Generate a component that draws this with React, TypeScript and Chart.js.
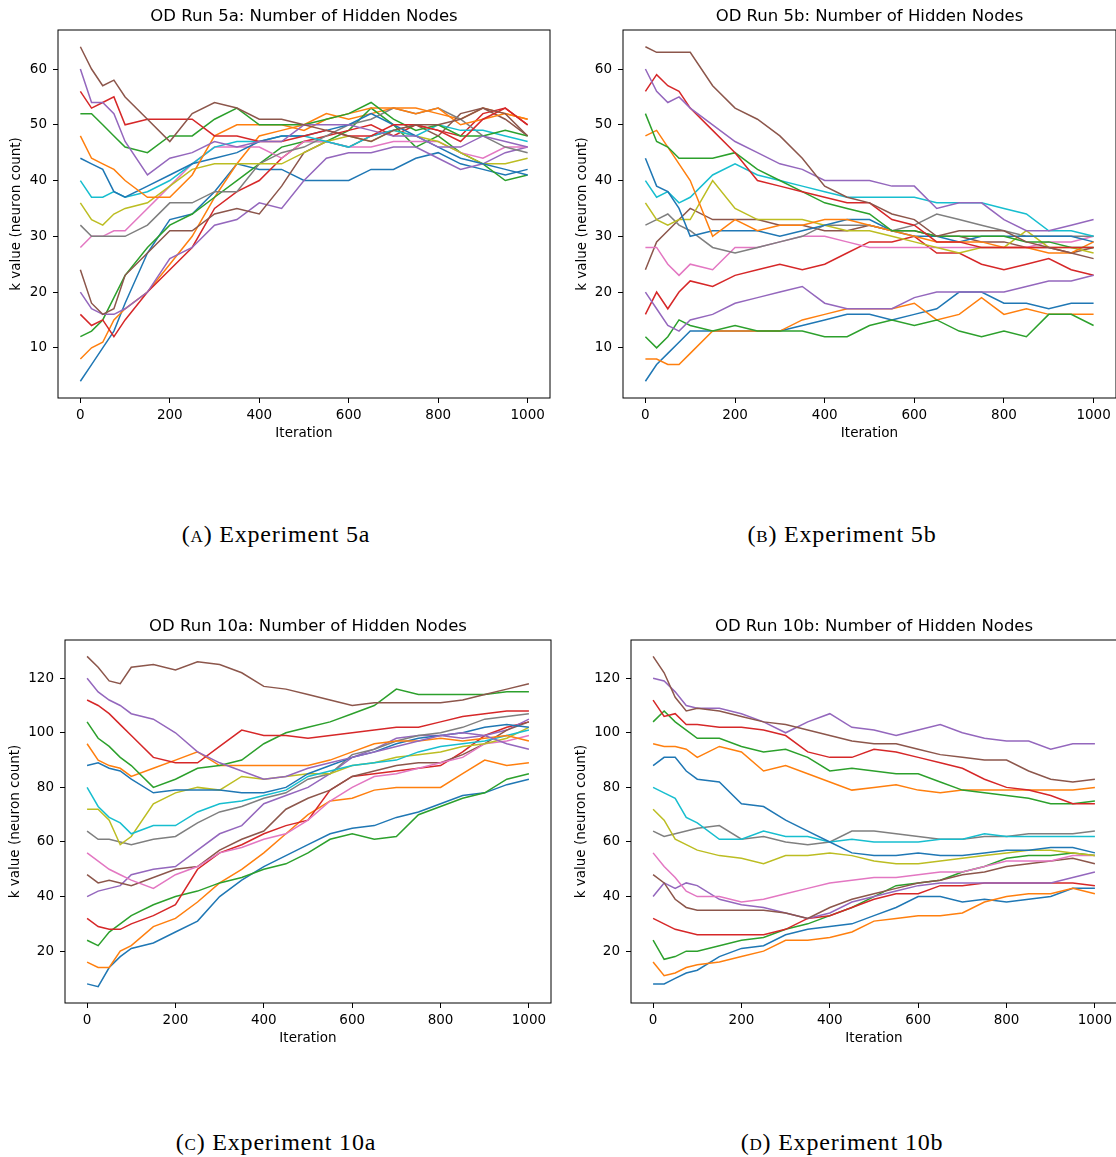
import React, { useEffect, useRef } from "react";
import { Chart, registerables } from "chart.js";

Chart.register(...registerables);

// Shared sample iterations (x values) for every series
const ITER = [0, 25, 50, 75, 100, 150, 200, 250, 300, 350, 400, 450, 500, 550, 600, 650, 700, 750, 800, 850, 900, 950, 1000];
const X_TICKS = [0, 200, 400, 600, 800, 1000];
const Y_TICKS_5 = [10, 20, 30, 40, 50, 60];
const Y_TICKS_10 = [20, 40, 60, 80, 100, 120];
const COLORS = ["#1f77b4", "#ff7f0e", "#2ca02c", "#d62728", "#9467bd", "#8c564b", "#e377c2", "#7f7f7f", "#bcbd22", "#17becf"];

// ---- OD Run 5a (starting k = 4 .. 64)
const A_K04 = [4, 7, 10, 13, 18, 27, 33, 34, 38, 43, 42, 42, 40, 40, 40, 42, 42, 44, 45, 43, 42, 41, 42];
const A_K08 = [8, 10, 11, 15, 17, 20, 25, 30, 37, 43, 48, 49, 50, 52, 51, 52, 53, 53, 52, 51, 53, 52, 51];
const A_K12 = [12, 13, 15, 19, 23, 28, 32, 34, 37, 40, 43, 46, 47, 47, 49, 53, 50, 46, 48, 45, 43, 40, 41];
const A_K16 = [16, 14, 15, 12, 15, 20, 24, 28, 35, 38, 40, 44, 47, 48, 49, 50, 48, 50, 49, 48, 52, 53, 50];
const A_K20 = [20, 17, 16, 16, 17, 20, 26, 28, 32, 33, 36, 35, 40, 44, 45, 45, 46, 46, 44, 42, 43, 45, 46];
const A_K24 = [24, 18, 16, 17, 23, 27, 31, 31, 34, 35, 34, 39, 45, 47, 46, 48, 49, 50, 48, 52, 53, 51, 48];
const A_K28 = [28, 30, 30, 31, 31, 35, 39, 43, 46, 46, 46, 44, 47, 47, 46, 46, 47, 47, 47, 45, 44, 46, 46];
const A_K32 = [32, 30, 30, 30, 30, 32, 36, 36, 38, 38, 43, 45, 46, 48, 50, 51, 53, 52, 53, 51, 48, 46, 45];
const A_K36 = [36, 33, 32, 34, 35, 36, 39, 42, 43, 43, 43, 43, 45, 47, 48, 47, 49, 48, 47, 45, 43, 43, 44];
const A_K40 = [40, 37, 37, 38, 37, 38, 40, 43, 46, 47, 47, 48, 48, 47, 46, 48, 49, 48, 50, 49, 49, 48, 47];
const A_K44 = [44, 43, 42, 38, 37, 39, 41, 43, 44, 45, 47, 48, 48, 49, 50, 52, 50, 48, 46, 44, 43, 42, 41];
const A_K48 = [48, 44, 43, 42, 40, 37, 37, 41, 48, 50, 50, 50, 49, 51, 52, 53, 53, 52, 53, 50, 51, 52, 51];
const A_K52 = [52, 52, 50, 48, 46, 45, 48, 48, 51, 53, 50, 50, 50, 51, 52, 54, 51, 49, 50, 48, 48, 49, 48];
const A_K56 = [56, 53, 54, 55, 50, 51, 51, 51, 48, 48, 47, 47, 48, 49, 48, 48, 50, 50, 49, 47, 51, 53, 50];
const A_K60 = [60, 54, 54, 52, 47, 41, 44, 45, 47, 46, 47, 47, 50, 50, 50, 49, 48, 48, 46, 46, 48, 47, 46];
const A_K64 = [64, 60, 57, 58, 55, 51, 47, 52, 54, 53, 51, 51, 50, 49, 48, 47, 49, 50, 50, 51, 53, 52, 48];
const RUN_5A = [A_K04, A_K08, A_K12, A_K16, A_K20, A_K24, A_K28, A_K32, A_K36, A_K40, A_K44, A_K48, A_K52, A_K56, A_K60, A_K64];

// ---- OD Run 5b
const B_K04 = [4, 7, 9, 11, 13, 13, 13, 13, 13, 14, 15, 16, 16, 15, 16, 17, 20, 20, 18, 18, 17, 18, 18];
const B_K08 = [8, 8, 7, 7, 9, 13, 13, 13, 13, 15, 16, 17, 17, 17, 18, 15, 16, 19, 16, 17, 16, 16, 16];
const B_K12 = [12, 10, 12, 15, 14, 13, 14, 13, 13, 13, 12, 12, 14, 15, 14, 15, 13, 12, 13, 12, 16, 16, 14];
const B_K16 = [16, 20, 17, 20, 22, 21, 23, 24, 25, 24, 25, 27, 29, 29, 30, 27, 27, 25, 24, 25, 26, 24, 23];
const B_K20 = [20, 17, 14, 13, 15, 16, 18, 19, 20, 21, 18, 17, 17, 17, 19, 20, 20, 20, 20, 21, 22, 22, 23];
const B_K24 = [24, 29, 31, 33, 35, 33, 33, 33, 32, 32, 31, 31, 32, 31, 31, 30, 30, 29, 29, 28, 28, 27, 28];
const B_K28 = [28, 28, 25, 23, 25, 24, 28, 28, 29, 30, 30, 29, 28, 28, 28, 28, 28, 28, 28, 28, 29, 29, 30];
const B_K32 = [32, 33, 34, 32, 31, 28, 27, 28, 29, 30, 32, 32, 32, 31, 32, 34, 33, 32, 31, 30, 30, 30, 30];
const B_K36 = [36, 33, 32, 33, 33, 40, 35, 33, 33, 33, 32, 31, 31, 30, 29, 28, 27, 28, 28, 31, 28, 28, 27];
const B_K40 = [40, 37, 38, 36, 37, 41, 43, 41, 40, 39, 38, 37, 37, 37, 37, 36, 36, 36, 35, 34, 31, 31, 30];
const B_K44 = [44, 39, 38, 35, 30, 31, 31, 31, 30, 31, 32, 33, 33, 31, 30, 30, 29, 30, 30, 30, 30, 30, 29];
const B_K48 = [48, 49, 46, 43, 40, 30, 33, 31, 32, 32, 33, 33, 32, 31, 30, 29, 29, 29, 28, 28, 27, 27, 29];
const B_K52 = [52, 47, 46, 44, 44, 44, 45, 42, 40, 38, 36, 35, 34, 31, 31, 30, 30, 30, 30, 29, 29, 28, 28];
const B_K56 = [56, 59, 57, 56, 53, 49, 45, 40, 39, 38, 37, 36, 36, 33, 32, 29, 29, 28, 28, 28, 28, 28, 28];
const B_K60 = [60, 56, 54, 55, 53, 50, 47, 45, 43, 42, 40, 40, 40, 39, 39, 35, 36, 36, 33, 31, 31, 32, 33];
const B_K64 = [64, 63, 63, 63, 63, 57, 53, 51, 48, 44, 39, 37, 36, 34, 33, 30, 31, 31, 31, 29, 28, 27, 26];
const RUN_5B = [B_K04, B_K08, B_K12, B_K16, B_K20, B_K24, B_K28, B_K32, B_K36, B_K40, B_K44, B_K48, B_K52, B_K56, B_K60, B_K64];

// ---- OD Run 10a (starting k = 8 .. 128)
const C_K008 = [8, 7, 14, 18, 21, 23, 27, 31, 40, 46, 51, 55, 59, 63, 65, 66, 69, 71, 74, 77, 78, 81, 83];
const C_K016 = [16, 14, 14, 20, 22, 29, 32, 38, 45, 50, 56, 63, 70, 75, 76, 79, 80, 80, 80, 85, 90, 88, 89];
const C_K024 = [24, 22, 27, 30, 33, 37, 40, 42, 45, 47, 50, 52, 56, 61, 63, 61, 62, 70, 73, 76, 78, 83, 85];
const C_K032 = [32, 29, 28, 28, 30, 33, 37, 50, 56, 59, 63, 66, 68, 79, 84, 85, 86, 87, 88, 93, 99, 102, 104];
const C_K040 = [40, 42, 43, 44, 48, 50, 51, 57, 63, 66, 74, 77, 80, 85, 91, 94, 98, 99, 99, 98, 99, 101, 105];
const C_K048 = [48, 45, 46, 45, 44, 47, 50, 51, 57, 61, 64, 72, 76, 79, 84, 86, 88, 89, 89, 92, 96, 101, 104];
const C_K056 = [56, 53, 50, 48, 46, 43, 48, 51, 56, 58, 61, 63, 68, 75, 80, 84, 85, 87, 89, 91, 96, 97, 99];
const C_K064 = [64, 61, 61, 60, 59, 61, 62, 67, 71, 73, 76, 78, 83, 85, 92, 94, 97, 99, 100, 102, 105, 106, 107];
const C_K072 = [72, 72, 68, 59, 62, 74, 78, 80, 79, 84, 83, 84, 85, 85, 88, 89, 91, 92, 93, 95, 96, 98, 102];
const C_K080 = [80, 73, 69, 67, 63, 66, 66, 71, 74, 75, 77, 79, 84, 86, 88, 89, 90, 93, 95, 96, 97, 99, 101];
const C_K088 = [88, 89, 87, 86, 83, 78, 79, 79, 79, 78, 78, 80, 85, 88, 91, 93, 96, 98, 99, 100, 102, 103, 102];
const C_K096 = [96, 90, 88, 87, 84, 87, 90, 93, 88, 88, 88, 88, 88, 90, 93, 96, 97, 97, 98, 97, 98, 99, 97];
const C_K104 = [104, 98, 95, 91, 88, 80, 83, 87, 88, 90, 96, 100, 102, 104, 107, 110, 116, 114, 114, 114, 114, 115, 115];
const C_K112 = [112, 110, 107, 103, 99, 91, 89, 89, 95, 101, 99, 99, 98, 99, 100, 101, 102, 102, 104, 106, 107, 108, 108];
const C_K120 = [120, 115, 112, 110, 107, 105, 100, 93, 89, 86, 83, 84, 87, 89, 91, 93, 95, 97, 99, 100, 99, 96, 94];
const C_K128 = [128, 124, 119, 118, 124, 125, 123, 126, 125, 122, 117, 116, 114, 112, 110, 111, 111, 111, 111, 112, 114, 116, 118];
const RUN_10A = [C_K008, C_K016, C_K024, C_K032, C_K040, C_K048, C_K056, C_K064, C_K072, C_K080, C_K088, C_K096, C_K104, C_K112, C_K120, C_K128];

// ---- OD Run 10b
const D_K008 = [8, 8, 10, 12, 13, 18, 21, 22, 26, 28, 29, 30, 33, 36, 40, 40, 38, 39, 38, 39, 40, 43, 43];
const D_K016 = [16, 11, 12, 14, 15, 16, 18, 20, 24, 24, 25, 27, 31, 32, 33, 33, 34, 38, 40, 41, 41, 43, 41];
const D_K024 = [24, 17, 18, 20, 20, 22, 24, 25, 28, 30, 33, 36, 40, 44, 45, 46, 49, 51, 54, 55, 55, 56, 55];
const D_K032 = [32, 30, 28, 27, 26, 26, 26, 26, 28, 32, 33, 36, 39, 41, 41, 44, 44, 45, 45, 45, 45, 45, 44];
const D_K040 = [40, 45, 43, 45, 44, 39, 37, 36, 34, 32, 34, 38, 40, 42, 44, 45, 45, 45, 45, 45, 45, 47, 49];
const D_K048 = [48, 45, 39, 36, 35, 35, 35, 35, 34, 32, 36, 39, 41, 43, 45, 46, 48, 49, 51, 52, 53, 54, 52];
const D_K056 = [56, 51, 47, 42, 40, 40, 38, 39, 41, 43, 45, 46, 47, 47, 48, 49, 49, 51, 53, 53, 53, 55, 55];
const D_K064 = [64, 62, 63, 64, 65, 66, 61, 62, 60, 59, 60, 64, 64, 63, 62, 61, 61, 62, 62, 63, 63, 63, 64];
const D_K072 = [72, 68, 61, 59, 57, 55, 54, 52, 55, 55, 56, 55, 53, 52, 52, 53, 54, 55, 56, 57, 57, 56, 55];
const D_K080 = [80, 78, 76, 69, 67, 61, 61, 64, 62, 62, 60, 61, 60, 60, 60, 61, 61, 63, 62, 62, 62, 62, 62];
const D_K088 = [88, 91, 91, 86, 83, 82, 74, 73, 68, 64, 60, 56, 55, 55, 56, 55, 55, 56, 57, 57, 58, 58, 56];
const D_K096 = [96, 95, 95, 94, 91, 95, 93, 86, 88, 85, 82, 79, 80, 81, 79, 78, 79, 79, 79, 79, 79, 79, 80];
const D_K104 = [104, 108, 104, 101, 98, 98, 95, 93, 94, 91, 86, 87, 86, 85, 85, 82, 79, 78, 77, 76, 74, 74, 75];
const D_K112 = [112, 106, 107, 103, 103, 102, 102, 101, 99, 93, 91, 91, 94, 93, 91, 89, 87, 83, 80, 79, 77, 74, 74];
const D_K120 = [120, 119, 115, 110, 109, 109, 107, 104, 100, 104, 107, 102, 101, 99, 101, 103, 100, 98, 97, 97, 94, 96, 96];
const D_K128 = [128, 122, 113, 108, 109, 108, 106, 104, 103, 101, 99, 97, 96, 96, 94, 92, 91, 90, 90, 86, 83, 82, 83];
const RUN_10B = [D_K008, D_K016, D_K024, D_K032, D_K040, D_K048, D_K056, D_K064, D_K072, D_K080, D_K088, D_K096, D_K104, D_K112, D_K120, D_K128];

type Spec = {
  title: string;
  series: number[][];
  yMin: number;
  yMax: number;
  yTicks: number[];
  left: number;
  top: number;
  width: number;
  height: number;
  chartLeft: number;
  chartRight: number;
  chartTop: number;
  chartBottom: number;
  yTitleX: number;
};

const SPECS: Spec[] = [
  { title: "OD Run 5a: Number of Hidden Nodes", series: RUN_5A, yMin: 1, yMax: 67, yTicks: Y_TICKS_5,
    left: 0, top: 0, width: 560, height: 450, chartLeft: 58, chartRight: 550, chartTop: 30, chartBottom: 398, yTitleX: 16 },
  { title: "OD Run 5b: Number of Hidden Nodes", series: RUN_5B, yMin: 1, yMax: 67, yTicks: Y_TICKS_5,
    left: 560, top: 0, width: 556, height: 450, chartLeft: 623, chartRight: 1116, chartTop: 30, chartBottom: 398, yTitleX: 582 },
  { title: "OD Run 10a: Number of Hidden Nodes", series: RUN_10A, yMin: 1, yMax: 134, yTicks: Y_TICKS_10,
    left: 0, top: 610, width: 560, height: 445, chartLeft: 65, chartRight: 551, chartTop: 640, chartBottom: 1003, yTitleX: 15 },
  { title: "OD Run 10b: Number of Hidden Nodes", series: RUN_10B, yMin: 1, yMax: 134, yTicks: Y_TICKS_10,
    left: 560, top: 610, width: 557, height: 445, chartLeft: 631, chartRight: 1117, chartTop: 640, chartBottom: 1003, yTitleX: 581 },
];

const CAPTIONS = [
  { tag: "a", text: "Experiment 5a", cx: 276, baseline: 542 },
  { tag: "b", text: "Experiment 5b", cx: 842, baseline: 542 },
  { tag: "c", text: "Experiment 10a", cx: 276, baseline: 1150 },
  { tag: "d", text: "Experiment 10b", cx: 842, baseline: 1150 },
];

const FONT = "'DejaVu Sans', sans-serif";
const TICK_SIZE = 13.5;
const TITLE_SIZE = 16.5;

function Panel({ spec }: { spec: Spec }) {
  const ref = useRef<HTMLCanvasElement | null>(null);
  useEffect(() => {
    const canvas = ref.current;
    if (!canvas) return;
    const framePlugin = {
      id: "frameAndTitle",
      afterDraw(chart: any) {
        const { ctx, chartArea: a } = chart;
        ctx.save();
        ctx.strokeStyle = "#000";
        ctx.lineWidth = 1;
        ctx.strokeRect(a.left, a.top, a.right - a.left, a.bottom - a.top);
        ctx.fillStyle = "#000";
        ctx.font = `${TITLE_SIZE}px ${FONT}`;
        ctx.textAlign = "center";
        ctx.textBaseline = "middle";
        ctx.fillText(spec.title, (a.left + a.right) / 2, a.top - 13);
        ctx.restore();
      },
    };
    const n = spec.series.length;
    const half = (TICK_SIZE * 1.2) / 2;
    const chart = new Chart(canvas, {
      type: "line",
      data: {
        datasets: spec.series.map((s, i) => ({
          label: `k${i}`,
          data: ITER.map((x, j) => ({ x, y: s[j] })),
          borderColor: COLORS[i % COLORS.length],
          backgroundColor: COLORS[i % COLORS.length],
          borderWidth: 1.5,
          pointRadius: 0,
          tension: 0,
          fill: false,
          order: n - i,
        })),
      },
      options: {
        animation: false,
        responsive: false,
        devicePixelRatio: 1,
        events: [],
        layout: {
          padding: {
            left: 0,
            right: spec.left + spec.width - spec.chartRight,
            top: spec.chartTop - spec.top,
            bottom: 0,
          },
        },
        plugins: {
          legend: { display: false },
          tooltip: { enabled: false },
          title: { display: false },
        },
        scales: {
          x: {
            type: "linear",
            min: -50,
            max: 1050,
            afterFit: (s: any) => {
              s.height = spec.top + spec.height - spec.chartBottom;
            },
            afterBuildTicks: (s: any) => {
              s.ticks = X_TICKS.map((v) => ({ value: v }));
            },
            grid: { display: true, drawOnChartArea: false, drawTicks: true, tickLength: 5, tickColor: "#000", tickWidth: 1 },
            border: { display: false },
            ticks: { color: "#000", font: { family: FONT, size: TICK_SIZE }, padding: 4, maxRotation: 0, autoSkip: false, callback: (v: any) => String(v) },
            title: { display: true, text: "Iteration", color: "#000", font: { family: FONT, size: TICK_SIZE }, padding: { top: 0, bottom: 17 - half } },
          },
          y: {
            type: "linear",
            min: spec.yMin,
            max: spec.yMax,
            afterFit: (s: any) => {
              s.width = spec.chartLeft - spec.left;
            },
            afterBuildTicks: (s: any) => {
              s.ticks = spec.yTicks.map((v) => ({ value: v }));
            },
            grid: { display: true, drawOnChartArea: false, drawTicks: true, tickLength: 5, tickColor: "#000", tickWidth: 1 },
            border: { display: false },
            ticks: { color: "#000", font: { family: FONT, size: TICK_SIZE }, padding: 6, autoSkip: false, callback: (v: any) => String(v) },
            title: { display: true, text: "k value (neuron count)", color: "#000", font: { family: FONT, size: TICK_SIZE }, padding: { top: spec.yTitleX - spec.left - half, bottom: 0 } },
          },
        },
      } as any,
      plugins: [framePlugin],
    });
    return () => chart.destroy();
  }, [spec]);
  return (
    <canvas
      ref={ref}
      width={spec.width}
      height={spec.height}
      style={{ position: "absolute", left: spec.left, top: spec.top, width: spec.width, height: spec.height }}
    />
  );
}

export default function App() {
  return (
    <div style={{ position: "absolute", left: 0, top: 0, width: 1116, height: 1157, overflow: "hidden", background: "#fff" }}>
      {SPECS.map((s, i) => (
        <Panel key={i} spec={s} />
      ))}
      {CAPTIONS.map((c, i) => (
        <div
          key={"cap" + i}
          style={{
            position: "absolute",
            left: c.cx - 200,
            width: 400,
            top: c.baseline - 20,
            textAlign: "center",
            fontFamily: "'Liberation Serif', serif",
            fontSize: 24,
            lineHeight: "24px",
            letterSpacing: 0.8,
            color: "#000",
            whiteSpace: "nowrap",
          }}
        >
          <span style={{ fontVariant: "small-caps" }}>({c.tag})</span> {c.text}
        </div>
      ))}
    </div>
  );
}
